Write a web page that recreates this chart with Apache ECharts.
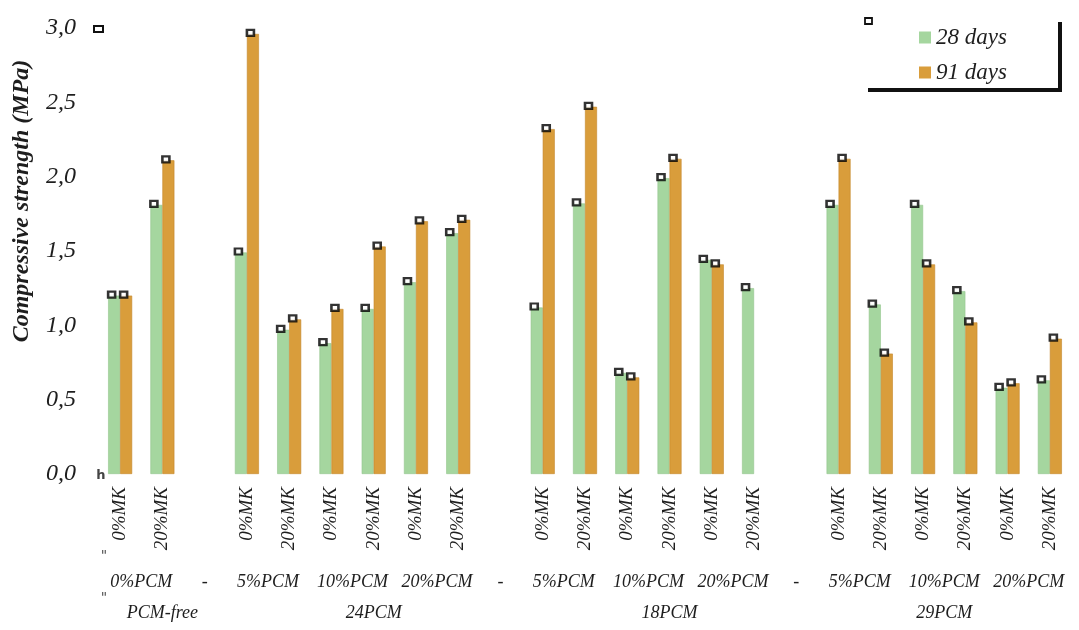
<!DOCTYPE html>
<html>
<head>
<meta charset="utf-8">
<script src="https://cdn.jsdelivr.net/npm/echarts@6/dist/echarts.min.js"></script>
<style>
  html, body { margin: 0; padding: 0; background: #ffffff; }
  #chart { width: 1079px; height: 630px; }
</style>
</head>
<body>
<div id="chart"></div>
<script>
// Metakaolin content per bar slot; '' marks the spacer slot between mixes
const mkLabels = ['0%MK', '20%MK', '',
  '0%MK', '20%MK', '0%MK', '20%MK', '0%MK', '20%MK', '',
  '0%MK', '20%MK', '0%MK', '20%MK', '0%MK', '20%MK', '',
  '0%MK', '20%MK', '0%MK', '20%MK', '0%MK', '20%MK'];

// PCM dosage, one per MK pair ('-' under the spacer slots)
const pcmLabels = ['0%PCM', '-', '5%PCM', '10%PCM', '20%PCM', '-',
  '5%PCM', '10%PCM', '20%PCM', '-', '5%PCM', '10%PCM', '20%PCM'];

// PCM type of each mix family
const groupLabels = ['PCM-free', '24PCM', '18PCM', '29PCM'];

// Compressive strength (MPa)
const strength28 = [1.20, 1.81, null,
  1.49, 0.97, 0.88, 1.11, 1.29, 1.62, null,
  1.12, 1.82, 0.68, 1.99, 1.44, 1.25, null,
  1.81, 1.14, 1.81, 1.23, 0.58, 0.63];
const strength91 = [1.20, 2.11, null,
  2.96, 1.04, 1.11, 1.53, 1.70, 1.71, null,
  2.32, 2.47, 0.65, 2.12, 1.41, null, null,
  2.12, 0.81, 1.41, 1.02, 0.61, 0.91];

const yTicks = [0, 0.5, 1.0, 1.5, 2.0, 2.5, 3.0];

const SERIF = '"Liberation Serif", "Times New Roman", serif';
const INK = '#1e1e1e';
const GREEN = '#a5d69f';
const ORANGE = '#d99d3b';

// Slot positions of the second and third label rows (in slot units)
const nSlots = mkLabels.length;
const pcmAt = {};
const groupAt = {};
(function () {
  let k = 0;
  let i = 0;
  while (i < nSlots) {
    if (mkLabels[i] === '') {
      pcmAt[(i + 0.5).toFixed(1)] = pcmLabels[k++];
      i += 1;
    } else {
      pcmAt[(i + 1).toFixed(1)] = pcmLabels[k++];
      i += 2;
    }
  }
  let g = 0;
  let start = 0;
  for (let s = 0; s < nSlots; s++) {
    if (mkLabels[s] === '') {
      groupAt[((start + s + 1) / 2).toFixed(1)] = groupLabels[g++];
      start = s + 1;
    }
  }
  groupAt[((start + nSlots) / 2).toFixed(1)] = groupLabels[g];
})();

const gridBox = { left: 99, right: 8, top: 28, bottom: 156 };

function labelAxis(gridIndex, table, margin) {
  return {
    type: 'value', gridIndex: gridIndex, min: 0, max: nSlots, interval: 0.5,
    position: 'bottom',
    axisLine: { show: false }, axisTick: { show: false }, splitLine: { show: false },
    axisLabel: {
      margin: margin, fontSize: 18, fontStyle: 'italic', fontFamily: SERIF, color: INK,
      formatter: function (v) { return table[v.toFixed(1)] || ''; }
    }
  };
}

const chart = echarts.init(document.getElementById('chart'), null, { renderer: 'canvas' });

chart.setOption({
  backgroundColor: '#ffffff',
  animation: false,
  grid: [
    Object.assign({}, gridBox),
    Object.assign({}, gridBox),
    Object.assign({}, gridBox)
  ],
  legend: {
    data: ['28 days', '91 days'],
    orient: 'vertical',
    left: 914, top: 21,
    icon: 'rect', itemWidth: 12, itemHeight: 12, itemGap: 12,
    itemStyle: { borderWidth: 0 },
    textStyle: { fontSize: 23, fontStyle: 'italic', fontFamily: SERIF, color: INK }
  },
  xAxis: [
    {
      type: 'category', gridIndex: 0, data: mkLabels,
      axisLine: { show: false }, axisTick: { show: false },
      axisLabel: {
        interval: 0, rotate: 90, margin: 13,
        fontSize: 19, fontStyle: 'italic', fontFamily: SERIF, color: INK
      }
    },
    labelAxis(1, pcmAt, 99),
    labelAxis(2, groupAt, 130)
  ],
  yAxis: [
    {
      type: 'value', gridIndex: 0, min: 0, max: 3, interval: 0.5,
      axisLine: { show: false }, axisTick: { show: false }, splitLine: { show: false },
      axisLabel: {
        margin: 23, fontSize: 24, fontStyle: 'italic', fontFamily: SERIF, color: INK,
        formatter: function (v) {
          const t = yTicks.find(function (x) { return Math.abs(x - v) < 1e-9; });
          return t === undefined ? '' : t.toFixed(1).replace('.', ',');
        }
      }
    },
    { type: 'value', gridIndex: 1, show: false, min: 0, max: 1 },
    { type: 'value', gridIndex: 2, show: false, min: 0, max: 1 }
  ],
  series: [
    {
      name: '28 days', type: 'bar', xAxisIndex: 0, yAxisIndex: 0,
      data: strength28, barWidth: 12, barGap: '0%',
      itemStyle: { color: GREEN, borderColor: '#93c58d', borderWidth: 0.6 }
    },
    {
      name: '91 days', type: 'bar', xAxisIndex: 0, yAxisIndex: 0,
      data: strength91, barWidth: 12, barGap: '0%',
      itemStyle: { color: ORANGE, borderColor: '#c4872a', borderWidth: 0.6 }
    },
    {
      name: 'cap 28', type: 'scatter', xAxisIndex: 0, yAxisIndex: 0,
      data: strength28, symbol: 'rect', symbolSize: [7, 6], symbolOffset: [-8.5, -1],
      itemStyle: { color: '#ffffff', borderColor: '#000000', borderWidth: 2.4 },
      silent: true, z: 5
    },
    {
      name: 'cap 91', type: 'scatter', xAxisIndex: 0, yAxisIndex: 0,
      data: strength91, symbol: 'rect', symbolSize: [7, 6], symbolOffset: [3.5, -1],
      itemStyle: { color: '#ffffff', borderColor: '#000000', borderWidth: 2.4 },
      silent: true, z: 5
    }
  ],
  graphic: [
    {
      type: 'text', x: 22, y: 201, rotation: Math.PI / 2,
      style: {
        text: 'Compressive strength (MPa)', align: 'center', verticalAlign: 'middle',
        fontSize: 24, fontStyle: 'italic', fontWeight: 'bold', fontFamily: SERIF, fill: INK
      }
    },
    {
      type: 'polyline',
      shape: { points: [[868, 90], [1060, 90], [1060, 22]] },
      style: { stroke: '#111111', lineWidth: 4, fill: null }
    },
    {
      type: 'rect', shape: { x: 94, y: 26, width: 9, height: 6 },
      style: { stroke: '#111111', lineWidth: 2, fill: '#ffffff' }
    },
    {
      type: 'rect', shape: { x: 865, y: 18, width: 7, height: 6 },
      style: { stroke: '#111111', lineWidth: 1.8, fill: '#ffffff' }
    },
    {
      type: 'text', x: 101, y: 476,
      style: { text: 'h', align: 'center', verticalAlign: 'middle',
        fontSize: 13, fontWeight: 'bold', fontFamily: '"DejaVu Sans", sans-serif', fill: '#444444' }
    },
    {
      type: 'text', x: 104, y: 556,
      style: { text: '"', align: 'center', verticalAlign: 'middle',
        fontSize: 14, fontFamily: '"DejaVu Sans", sans-serif', fill: '#555555' }
    },
    {
      type: 'text', x: 104, y: 598,
      style: { text: '"', align: 'center', verticalAlign: 'middle',
        fontSize: 14, fontFamily: '"DejaVu Sans", sans-serif', fill: '#555555' }
    }
  ]
});
</script>
</body>
</html>
